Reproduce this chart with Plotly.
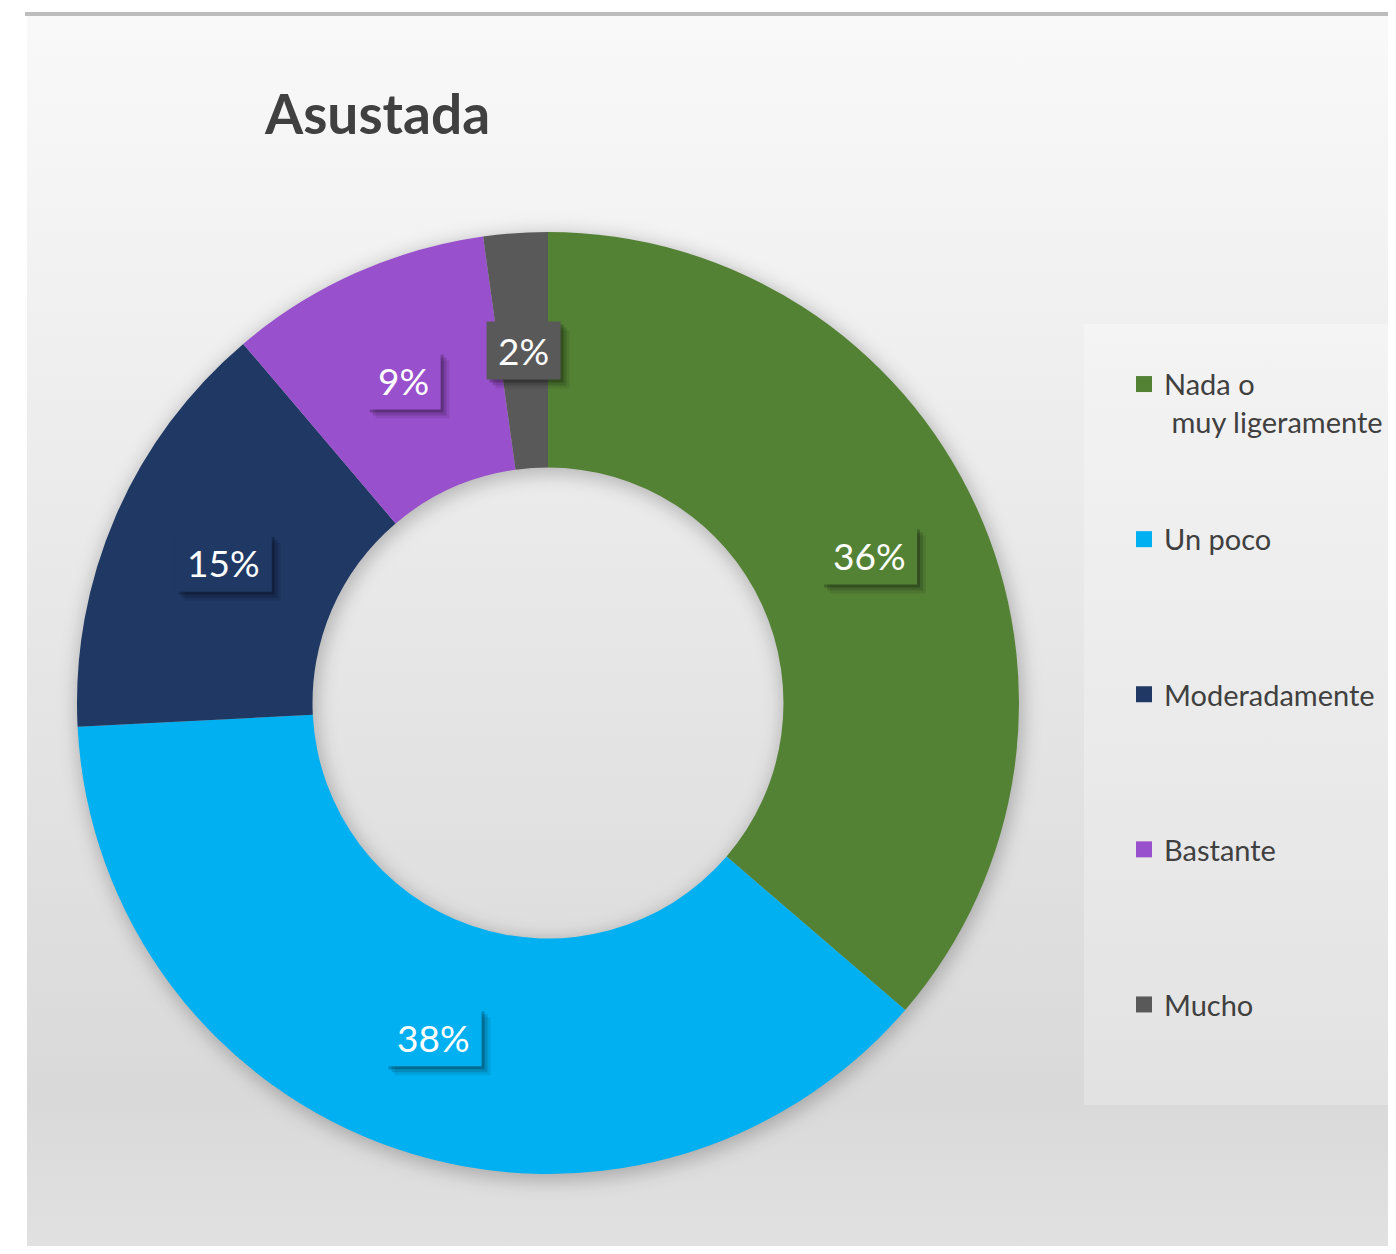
import base64
import math
import plotly.graph_objs as go

# chart data
title = "Asustada"
labels = ["Nada o<br>\u00a0muy ligeramente", "Un poco", "Moderadamente", "Bastante", "Mucho"]
values = [36.3, 37.9, 14.6, 9.0, 2.2]
colors = ["#548235", "#00B0F0", "#1F3864", "#9950CC", "#595959"]

# the page body has an 8px margin on every side; keep the figure inside the window
PAGE = 8
W, H = 1396 - 2 * PAGE, 1254 - 2 * PAGE
FONT = "Lato"


def px(x):
    # window pixel -> paper x
    return (x - PAGE) / W


def py(y):
    # window pixel -> paper y
    return 1 - (y - PAGE) / H


pie_x = [px(77), px(1019)]
pie_y = [py(1174), py(232)]
hole = 0.5

# background area (window pixels)
bg_left, bg_top = 27, 16
bg_w, bg_h = W + PAGE - bg_left, H + PAGE - bg_top
pie_cx = (pie_x[0] + pie_x[1]) / 2 * W + PAGE - bg_left
pie_cy = (1 - (pie_y[0] + pie_y[1]) / 2) * H + PAGE - bg_top
pie_r = (pie_x[1] - pie_x[0]) / 2 * W

svg_bg = (
    f'<svg xmlns="http://www.w3.org/2000/svg" width="{bg_w}" height="{bg_h}" viewBox="0 0 {bg_w} {bg_h}">'
    '<defs><linearGradient id="g" x1="0" y1="0" x2="0" y2="1">'
    '<stop offset="0" stop-color="#f9f9f9"/>'
    '<stop offset="0.88" stop-color="#d9d9d9"/>'
    '<stop offset="1" stop-color="#e1e1e1"/>'
    '</linearGradient>'
    '<filter id="b" x="-20%" y="-20%" width="140%" height="140%"><feGaussianBlur stdDeviation="9"/></filter>'
    '</defs>'
    f'<rect x="0" y="0" width="{bg_w}" height="{bg_h}" fill="url(#g)"/>'
    f'<circle cx="{pie_cx + 2}" cy="{pie_cy + 4}" r="{(pie_r * (1 + hole)) / 2}" fill="none" stroke="black" '
    f'stroke-opacity="0.22" stroke-width="{pie_r * (1 - hole) + 6}" filter="url(#b)"/>'
    '</svg>'
)
bg_src = "data:image/svg+xml;base64," + base64.b64encode(svg_bg.encode()).decode()


def legend_name(label: str) -> str:
    # pad with blank lines so the symbol sits on the first text line
    # and every entry has the same height
    parts = label.split("<br>")
    if len(parts) == 1:
        parts = parts + ["\u00a0"]
    return "<br>".join(["\u00a0"] + parts)


data = []
data.append(go.Pie(labels=labels, values=values, hole=hole, sort=False, direction="clockwise",
                   marker=dict(colors=colors, line=dict(width=0)),
                   textinfo="none",
                   domain=dict(x=pie_x, y=pie_y),
                   showlegend=False, hoverinfo="skip"))

for label, color in zip(labels, colors):
    data.append(go.Scatter(x=[None], y=[None], mode="markers", name=legend_name(label),
                           legendgroup=label,
                           marker=dict(symbol="square", size=16, color=color)))

# data labels in boxes with a drop shadow, in the middle of the ring at each slice's mid angle
shapes = [
    dict(type="line", xref="paper", yref="paper", x0=px(25), x1=1, y0=py(14), y1=py(14),
         line=dict(color="#bdbdbd", width=4)),
    dict(type="rect", xref="paper", yref="paper", x0=px(1084), x1=1.01, y0=py(1105), y1=py(324),
         fillcolor="rgba(255,255,255,0.25)", line=dict(width=0), layer="below"),
]
annotations = []
total = sum(values)
cum = 0
rr = (1 + hole) / 2
for v, color in zip(values, colors):
    mid = (cum + v / 2) / total * 2 * math.pi
    cum += v
    ax = (pie_x[0] + pie_x[1]) / 2 + rr * (pie_x[1] - pie_x[0]) / 2 * math.sin(mid)
    ay = (pie_y[0] + pie_y[1]) / 2 + rr * (pie_y[1] - pie_y[0]) / 2 * math.cos(mid)
    txt = "{:.0f}%".format(v / total * 100)
    bw, bh = 22 * len(txt) + 30, 58
    for shift, alpha in [(9, 0.08), (6, 0.14), (3, 0.22), (0, 1)]:
        fill = color if shift == 0 else "rgba(0,0,0,{})".format(alpha)
        shapes.append(dict(type="rect", xref="paper", yref="paper",
                           xsizemode="pixel", ysizemode="pixel", xanchor=ax, yanchor=ay,
                           x0=-bw / 2 + shift, x1=bw / 2 + shift, y0=-bh / 2 - shift, y1=bh / 2 - shift,
                           fillcolor=fill, line=dict(width=0)))
    annotations.append(dict(x=ax, y=ay, xref="paper", yref="paper", text=txt, showarrow=False,
                            xanchor="center", yanchor="middle",
                            font=dict(family=FONT, size=37, color="white")))

layout = go.Layout(
    width=W, height=H,
    margin=dict(l=0, r=0, t=0, b=0, autoexpand=False),
    paper_bgcolor="white", plot_bgcolor="rgba(0,0,0,0)",
    xaxis=dict(visible=False), yaxis=dict(visible=False),
    title=dict(text=title, x=px(265), xanchor="left", xref="paper",
               y=py(115), yanchor="middle", yref="paper",
               font=dict(family=FONT, size=55, color="#404040", weight="bold")),
    legend=dict(x=px(1124), xanchor="left", y=py(321), yanchor="top",
                bgcolor="rgba(0,0,0,0)", tracegroupgap=39,
                font=dict(family=FONT, size=29, color="#404040")),
    images=[dict(source=bg_src, xref="paper", yref="paper", x=px(bg_left), y=py(bg_top),
                 sizex=bg_w / W, sizey=bg_h / H, xanchor="left", yanchor="top",
                 sizing="stretch", layer="below")],
    shapes=shapes,
    annotations=annotations,
)

fig = go.Figure(data, layout)
fig.write_html("out.html")
